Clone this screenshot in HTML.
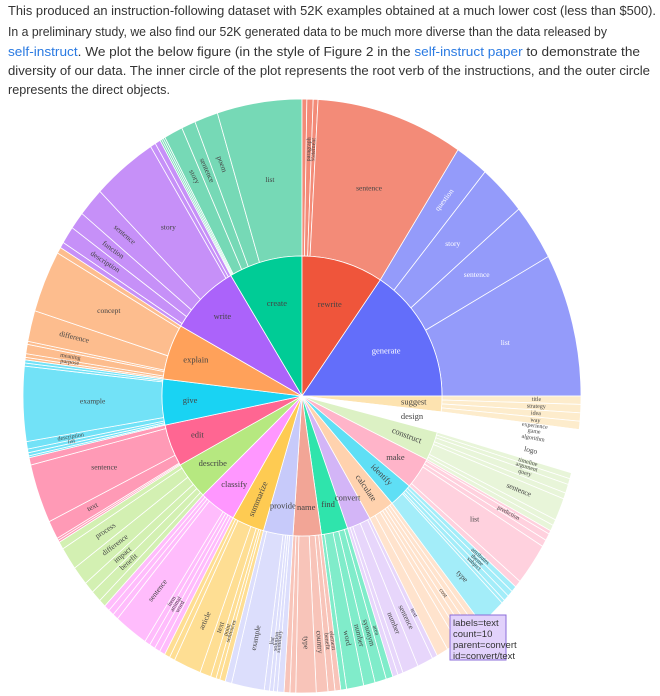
<!DOCTYPE html>
<html><head><meta charset="utf-8">
<style>
html,body{margin:0;padding:0;background:#fff;width:660px;height:696px;overflow:hidden}
svg{display:block}
</style></head>
<body>
<svg id="s" width="660" height="696" xmlns="http://www.w3.org/2000/svg">
<g font-family="Liberation Sans, Arial, sans-serif" font-size="13" fill="#333">
<text x="8" y="15" textLength="648" lengthAdjust="spacingAndGlyphs">This produced an instruction-following dataset with 52K examples obtained at a much lower cost (less than $500).</text>
<text x="8" y="36" textLength="599" lengthAdjust="spacingAndGlyphs">In a preliminary study, we also find our 52K generated data to be much more diverse than the data released by</text>
<text x="8" y="56" textLength="632" lengthAdjust="spacingAndGlyphs"><tspan fill="#2a7ae2">self-instruct</tspan>. We plot the below figure (in the style of Figure 2 in the <tspan fill="#2a7ae2">self-instruct paper</tspan> to demonstrate the</text>
<text x="8" y="75" textLength="642" lengthAdjust="spacingAndGlyphs">diversity of our data. The inner circle of the plot represents the root verb of the instructions, and the outer circle</text>
<text x="8" y="94" textLength="162" lengthAdjust="spacingAndGlyphs">represents the direct objects.</text>
</g>
<g id="chart" transform="translate(302,396)"></g>
<g font-family="Liberation Sans, Arial, sans-serif" font-size="9.5" fill="#333">
<rect x="450" y="615" width="56" height="45" fill="#e2d2fb" stroke="#8b6cd9" stroke-width="1"/>
<text x="453" y="626">labels=text</text>
<text x="453" y="637">count=10</text>
<text x="453" y="648">parent=convert</text>
<text x="453" y="659">id=convert/text</text>
</g>
</svg>
<script>
var R1=140,RX=279,RY=297;
var D=[
["create",329.4,360,"#00cc96","#76d9b6",[["",.4],["",.4],["",.4],["story",4],["sentence",3],["poem",5],["list",18]]],
["rewrite",0,34,"#ef553b","#f38b78",[["",1],["paragraph",1.3],["statement",1],["sentence",30.7]]],
["generate",34,90,"#636efa","#949bfa",[["question",7],["story",10],["sentence",11],["list",28]]],
["suggest",90,96.5,"#fde3b0","#fdeccc",[["title",1],["strategy",1],["idea",1],["way",1]]],
["design",96.5,105,"#ffffff","#ffffff",[["experience",.6],["game",1],["algorithm",1],["",.6],["logo",1.5],["",.6]]],
["construct",105,117,"#dcf1c4","#e8f5d9",[["timeline",.8],["argument",.8],["query",1.2],["",.8],["sentence",3],["",.8],["",.8]]],
["make",117,130,"#ffb4c9","#ffd1de",[["",.5],["prediction",1],["",1],["list",6],["",1]]],
["identify",130,140,"#5fdff5","#a3edf9",[["attributes",1],["theme",1],["subject",1],["",.6],["type",5]]],
["calculate",140,151,"#ffd2ae","#ffe3cd",[["",1],["",1],["cost",1],["",1],["",1],["",2],["",2]]],
["convert",151,161,"#d3b5f7","#e7d6fb",[["text",1],["sentence",3],["number",3],["",1],["",1]]],
["find",161,172,"#2fe4ac","#80ecca",[["area",1.2],["synonym",2],["number",2],["word",3],["",1]]],
["name",172,183.7,"#f2a596","#f8c4b9",[["element",1],["benefit",1.2],["country",2],["type",3.5],["",1],["",1]]],
["provide",183.7,196,"#c7cafa","#dcdefc",[["",1],["summary",.6],["solution",.6],["list",.8],["example",5],["",1]]],
["summarize",196,209.5,"#fecb52","#fede93",[["",1],["sentences",.7],["point",1],["text",2],["article",5],["",1],["",1]]],
["classify",209.5,225,"#ff97ff","#ffbcfc",[["",1],["word",1],["animal",1],["item",1],["sentence",6],["",1],["",1],["",1]]],
["describe",225,240.5,"#b6e880","#d3f0b2",[["",1],["benefit",1.5],["impact",1.5],["difference",2.5],["process",3],["",1]]],
["edit",240.5,258,"#ff6692","#ff9ab6",[["",.3],["",.3],["text",2.5],["sentence",8],["",1]]],
["give",258,277,"#19d3f3","#72e2f7",[["",.3],["",.5],["list",.6],["description",1.2],["example",12],["",.5],["",.5]]],
["explain",277,300,"#ffa15a","#fdbd8e",[["",.4],["purpose",.6],["meaning",1.5],["",.5],["difference",5],["concept",10],["",1]]],
["write",300,329.4,"#ab63fa","#c690f8",[["",1],["description",3],["function",3],["sentence",5],["story",12],["",1],["",1]]]
];
var g=document.getElementById("chart"),out="";
function P(rx,ry,a){a=a*Math.PI/180;return [(rx*Math.sin(a)).toFixed(2),(-ry*Math.cos(a)).toFixed(2)];}
function arc(r0,rx,ry,a0,a1,fill){
 var l=(a1-a0)>180?1:0,p0=P(rx,ry,a0),p1=P(rx,ry,a1),p2=P(r0,r0,a1),p3=P(r0,r0,a0),d;
 if(r0==0)d="M0,0L"+p0+"A"+rx+","+ry+" 0 "+l+" 1 "+p1+"Z";
 else d="M"+p3+"L"+p0+"A"+rx+","+ry+" 0 "+l+" 1 "+p1+"L"+p2+"A"+r0+","+r0+" 0 "+l+" 0 "+p3+"Z";
 return '<path d="'+d+'" fill="'+fill+'" stroke="#fff" stroke-width="0.8"/>';
}
function label(t,f,a,rotate,fs,col){
 if(!t)return "";
 var ar=a*Math.PI/180,x=(f[0]*Math.sin(ar)).toFixed(1),y=(-f[1]*Math.cos(ar)).toFixed(1),rot=0;
 if(rotate){rot=a<180?a-90:a+90;}
 return '<text x="'+x+'" y="'+y+'" transform="rotate('+rot.toFixed(1)+' '+x+' '+y+')" font-size="'+fs+'" fill="'+col+'" text-anchor="middle" dominant-baseline="middle">'+t+'</text>';
}
var labs="";
D.forEach(function(d){
 var a0=d[1],a1=d[2],tot=0;
 d[5].forEach(function(c){tot+=c[1];});
 var a=a0;
 d[5].forEach(function(c){
  var s=(a1-a0)*c[1]/tot;
  out+=arc(R1,RX,RY,a,a+s,d[4]);
  var col=(d[0]=="generate")?"#fff":"#444";
  var k=s<8?0.68:0.5;
  labs+=label(c[0],[R1+(RX-R1)*k,R1+(RY-R1)*k],a+s/2,s<8,s<2?6:7.5,col);
  a+=s;
 });
});
var rotList={summarize:1,calculate:1,identify:1,construct:1};
D.forEach(function(d){
 out+=arc(0,R1,R1,d[1],d[2],d[3]);
 var s=d[2]-d[1],col=(d[0]=="generate")?"#fff":"#444";
 var r=s>=30?R1*0.68:R1*0.8;
 labs+=label(d[0],[r,r],(d[1]+d[2])/2,!!rotList[d[0]],8.5,col);
});
g.innerHTML=out+'<g font-family="Liberation Serif, serif">'+labs+'</g>';
</script>
</body></html>
